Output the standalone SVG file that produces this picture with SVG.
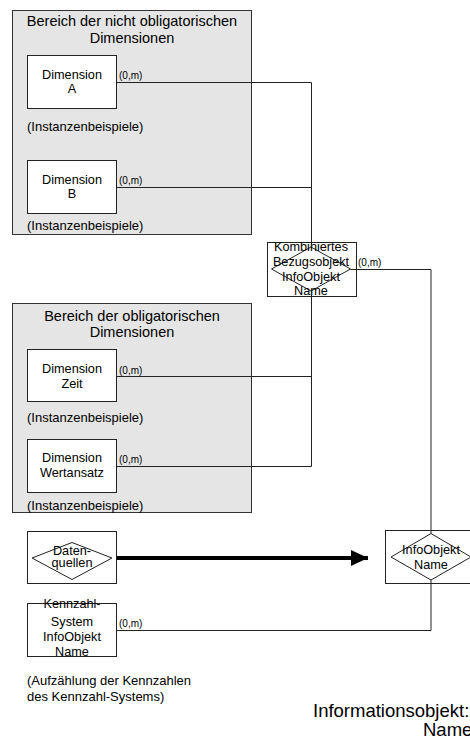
<svg xmlns="http://www.w3.org/2000/svg" width="470" height="738" viewBox="0 0 470 738">
<style>
text{font-family:"Liberation Sans",Arial,sans-serif;fill:#000}
.t{font-size:14.5px;text-anchor:middle}
.n{font-size:12.7px;text-anchor:middle}
.i{font-size:13px}
.c{font-size:10px}
.big{font-size:18.5px}
.area{fill:#e5e5e5;stroke:#333;stroke-width:1}
.box{fill:#fff;stroke:#222;stroke-width:1}
.dia{fill:none;stroke:#222;stroke-width:1}
.ln{fill:none;stroke:#222;stroke-width:1}
</style>
<defs>
<marker id="ah" markerWidth="5" markerHeight="4" refX="4.25" refY="2" orient="auto" markerUnits="strokeWidth">
<path d="M0,0 L4.25,2 L0,4 Z" fill="#000"/>
</marker>
</defs>
<g id="area-nicht-obligatorisch">
<rect class="area" x="12.5" y="10.5" width="239" height="224"/>
<text class="t" x="132" y="26">Bereich der nicht obligatorischen</text>
<text class="t" x="132" y="43">Dimensionen</text>
<text class="i" x="27" y="131">(Instanzenbeispiele)</text>
<text class="i" x="27" y="230">(Instanzenbeispiele)</text>
</g>
<g id="area-obligatorisch">
<rect class="area" x="12.5" y="303.5" width="239" height="209"/>
<text class="t" x="132" y="321">Bereich der obligatorischen</text>
<text class="t" x="132" y="337">Dimensionen</text>
<text class="i" x="27" y="422">(Instanzenbeispiele)</text>
<text class="i" x="27" y="510">(Instanzenbeispiele)</text>
</g>
<g id="dimA">
<rect class="box" x="27.5" y="55.5" width="89" height="53"/>
<text class="n" x="72" y="79">Dimension</text>
<text class="n" x="72" y="93">A</text>
</g>
<g id="dimB">
<rect class="box" x="27.5" y="160.5" width="89" height="53"/>
<text class="n" x="72" y="184">Dimension</text>
<text class="n" x="72" y="198">B</text>
</g>
<g id="dimZeit">
<rect class="box" x="27.5" y="349.5" width="89" height="52"/>
<text class="n" x="72" y="373">Dimension</text>
<text class="n" x="72" y="388">Zeit</text>
</g>
<g id="dimWertansatz">
<rect class="box" x="27.5" y="439.5" width="89" height="53"/>
<text class="n" x="72" y="462">Dimension</text>
<text class="n" x="72" y="477">Wertansatz</text>
</g>
<g id="kombiniert">
<rect class="box" x="267.5" y="242.5" width="89" height="54"/>
<polygon class="dia" points="271.5,269 311,247 350.5,269 311,291"/>
<text class="n" x="311" y="251">Kombiniertes</text>
<text class="n" x="311" y="266">Bezugsobjekt</text>
<text class="n" x="311" y="281">InfoObjekt</text>
<text class="n" x="311" y="295">Name</text>
</g>
<g id="datenquellen">
<rect class="box" x="27.5" y="531.5" width="89" height="52"/>
<polygon class="dia" points="32,558 72,542.5 112,558 72,579.5"/>
<text class="n" x="72" y="555">Daten-</text>
<text class="n" x="72" y="567">quellen</text>
</g>
<g id="infoobjekt">
<rect class="box" x="385.5" y="530.5" width="92" height="53"/>
<polygon class="dia" points="391,557 431,533.5 471,557 431,580"/>
<text class="n" x="431" y="554">InfoObjekt</text>
<text class="n" x="431" y="569">Name</text>
</g>
<g id="kennzahl">
<rect class="box" x="27.5" y="603.5" width="89" height="53"/>
<text class="n" x="72" y="608">Kennzahl-</text>
<text class="n" x="72" y="626">System</text>
<text class="n" x="72" y="641">InfoObjekt</text>
<text class="n" x="72" y="656">Name</text>
<text class="i" x="27" y="685">(Aufzählung der Kennzahlen</text>
<text class="i" x="27" y="701">des Kennzahl-Systems)</text>
</g>
<g id="caption">
<text class="big" x="313" y="717">Informationsobjekt:</text>
<text class="big" x="423" y="736">Name</text>
</g>
<g id="connectors">
<polyline class="ln" points="117,82.5 311.5,82.5 311.5,247"/>
<polyline class="ln" points="117,187.5 311.5,187.5"/>
<polyline class="ln" points="311.5,291 311.5,466.5 117,466.5"/>
<polyline class="ln" points="117,376.5 311.5,376.5"/>
<polyline class="ln" points="350.5,269.5 431,269.5 431,533.5"/>
<polyline class="ln" points="431,580 431,630.5 117,630.5"/>
<line x1="117" y1="558" x2="368" y2="558" stroke="#000" stroke-width="4" marker-end="url(#ah)"/>
<text class="c" x="119" y="79">(0,m)</text>
<text class="c" x="119" y="184">(0,m)</text>
<text class="c" x="119" y="374">(0,m)</text>
<text class="c" x="119" y="463">(0,m)</text>
<text class="c" x="119" y="627">(0,m)</text>
<text class="c" x="358" y="266">(0,m)</text>
</g>
</svg>
